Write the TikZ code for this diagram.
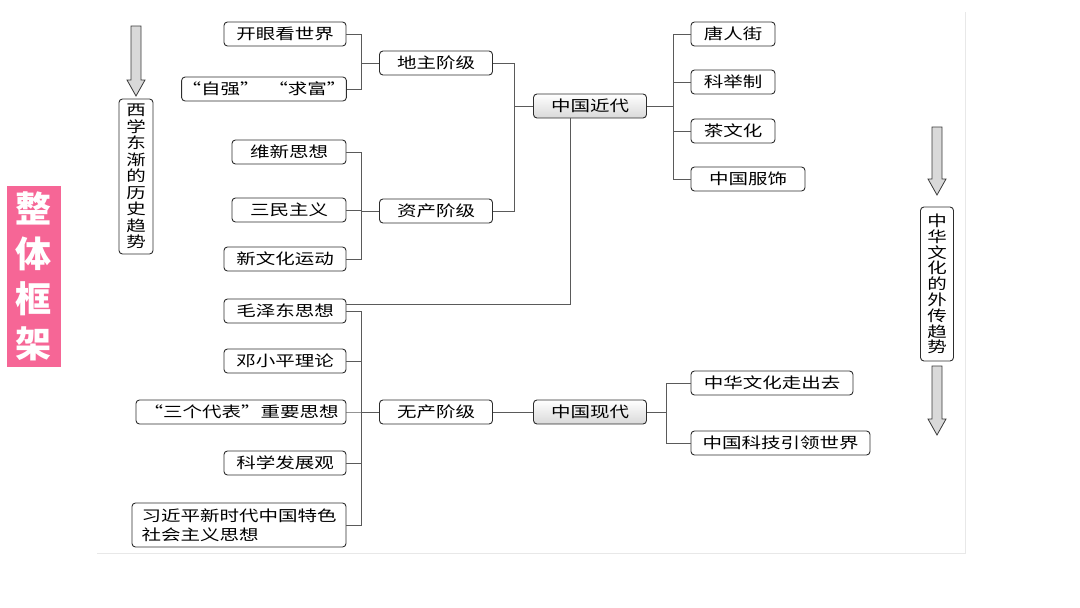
\documentclass[tikz,border=0pt]{standalone}
\usepackage{fontspec}
\setmainfont{Noto Sans CJK SC}[FakeStretch=1.3]
\newfontfamily\titlefont{Noto Sans CJK SC}
\usetikzlibrary{positioning}
\definecolor{pinkc}{RGB}{246,102,150}
\definecolor{linec}{RGB}{90,90,90}

\begin{document}
\begin{tikzpicture}[x=1pt,y=-1pt,font=\fontsize{15}{16}\selectfont,
                    every edge/.append style={draw=linec,line width=0.9pt},
                    bus/.style={to path={-- ++(#1,0) |- (\tikztotarget)}},
                    pics/downarrow/.style={code={
                      \draw[fill=gray!30,draw=gray!45!black,line width=0.8pt]
                        (-5,0) -- (5,0) -- (5,#1-16) -- (9,#1-16) -- (0,#1)
                        -- (-9,#1-16) -- (-5,#1-16) -- cycle;}}]

  \useasboundingbox (0,0) rectangle (1080,608);
  \tikzstyle{box} = [draw=gray!35!black, line width=0.9pt, rounded corners=3.5pt,
                     minimum height=24pt, inner xsep=0pt, inner ysep=2pt]
  \tikzstyle{era} = [box, top color=white, bottom color=gray!30]

  % faint frame
  \draw[gray!18, line width=1pt] (97,553) -- (965,553) -- (965,12);

  % title
  \node[fill=pinkc, minimum width=54pt, minimum height=181pt, align=center, text=white,
        font=\titlefont\fontsize{36}{45}\selectfont\bfseries] (title) at (34,276.5)
        {整\\体\\框\\架};

  % trends
  \pic at (136,26) {downarrow=70};
  \node[box, minimum width=34pt, minimum height=155pt, align=center,
        font=\fontsize{15}{16.5}\selectfont] (xixue) at (136,176.5)
        {西\\学\\东\\渐\\的\\历\\史\\趋\\势};
  \pic at (937,127) {downarrow=68};
  \node[box, minimum width=33pt, minimum height=154pt, align=center,
        font=\fontsize{15}{15.8}\selectfont] (waichuan) at (937,284)
        {中\\华\\文\\化\\的\\外\\传\\趋\\势};
  \pic at (937,366) {downarrow=69};

  % modern China
  \node[box, minimum width=122pt] (kaiyan)    at (285,34)  {开眼看世界};
  \node[box, minimum width=164pt] (ziqiang)   at (264,89)  {“自强”\ \ “求富”};
  \node[box, minimum width=113pt] (dizhu)     at (436,63)  {地主阶级};
  \node[box, minimum width=114pt] (weixin)    at (289,152) {维新思想};
  \node[box, minimum width=114pt] (sanmin)    at (289,210) {三民主义};
  \node[box, minimum width=122pt] (xinwenhua) at (285,259) {新文化运动};
  \node[box, minimum width=113pt] (zichan)    at (436,211) {资产阶级};
  \node[era, minimum width=113pt] (jindai)    at (590,106) {中国近代};

  \node[box, minimum width=84pt]  (tangren)   at (733,34)  {唐人街};
  \node[box, minimum width=84pt]  (keju)      at (733,82)  {科举制};
  \node[box, minimum width=84pt]  (cha)       at (733,131) {茶文化};
  \node[box, minimum width=114pt] (fushi)     at (748,179) {中国服饰};

  % contemporary China
  \node[box, minimum width=122pt] (mao)       at (285,311) {毛泽东思想};
  \node[box, minimum width=122pt] (deng)      at (285,361) {邓小平理论};
  \node[box, minimum width=210pt] (sange)     at (241,412) {“三个代表”重要思想};
  \node[box, minimum width=122pt] (kexue)     at (285,463) {科学发展观};
  \node[box, minimum width=214pt, minimum height=44pt, align=left,
        font=\fontsize{15}{19}\selectfont] (xi) at (239,525)
        {习近平新时代中国特色\\社会主义思想};
  \node[box, minimum width=113pt] (wuchan)    at (436,412) {无产阶级};
  \node[era, minimum width=113pt] (xiandai)   at (590,412) {中国现代};
  \node[box, minimum width=162pt] (zouchu)    at (772,383) {中华文化走出去};
  \node[box, minimum width=179pt] (keji)      at (780.5,443) {中国科技引领世界};

  \path (kaiyan.east)    edge[bus=15] (dizhu.west)
        (ziqiang.east)   edge[bus=15] (dizhu.west)
        (weixin.east)    edge[bus=15] (zichan.west)
        (sanmin.east)    edge[bus=15] (zichan.west)
        (xinwenhua.east) edge[bus=15] (zichan.west)
        (dizhu.east)     edge[bus=21] (jindai.west)
        (zichan.east)    edge[bus=21] (jindai.west)
        (jindai.east)    edge[bus=26] (tangren.west)
        (jindai.east)    edge[bus=26] (keju.west)
        (jindai.east)    edge[bus=26] (cha.west)
        (jindai.east)    edge[bus=26] (fushi.west)
        ([xshift=-20pt]jindai.south) edge[to path={|- (\tikztotarget)}] ([yshift=7pt]mao.east)
        (mao.east)       edge[bus=15] (wuchan.west)
        (deng.east)      edge[bus=15] (wuchan.west)
        (sange.east)     edge[bus=15] (wuchan.west)
        (kexue.east)     edge[bus=15] (wuchan.west)
        (xi.east)        edge[bus=15] (wuchan.west)
        (wuchan)         edge         (xiandai)
        (xiandai.east)   edge[bus=19] (zouchu.west)
        (xiandai.east)   edge[bus=19] (keji.west);
\end{tikzpicture}
\end{document}
